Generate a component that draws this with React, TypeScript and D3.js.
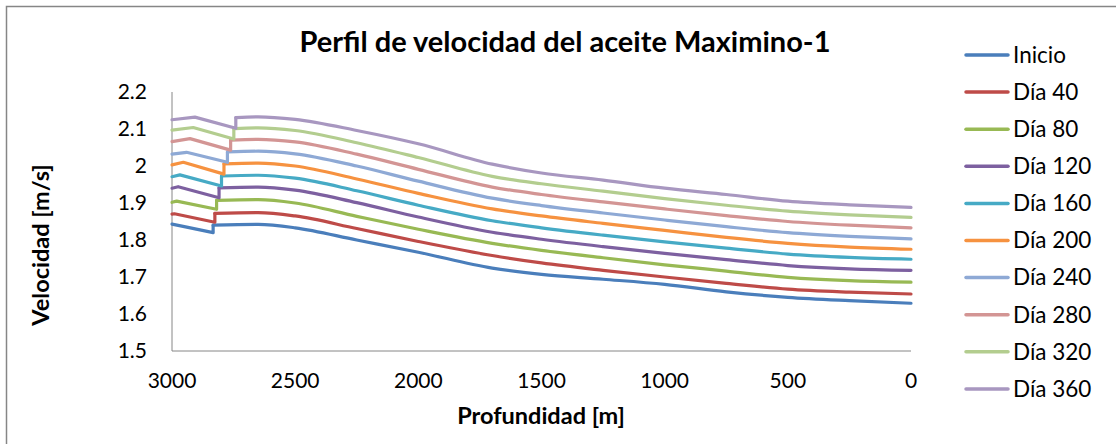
import * as d3 from "d3"

// Depth axis (m) and series names
const seriesNames = ["Inicio", "Día 40", "Día 80", "Día 120", "Día 160", "Día 200", "Día 240", "Día 280", "Día 320", "Día 360"]
const seriesColors = ["#4a7ebb", "#be4b48", "#98b954", "#7d60a0", "#46aac5", "#f69240", "#8ea9d5", "#d39594", "#b3cd8f", "#a897c0"]

// head of each profile: value at 3000 m, small bump, drop, then the jump
const startValues = [1.843, 1.870, 1.902, 1.940, 1.971, 2.003, 2.032, 2.066, 2.097, 2.125]
const peakDepths = [2950, 2990, 2981, 2975, 2968, 2954, 2941, 2927, 2914, 2907]
const peakValues = [1.836, 1.871, 1.905, 1.944, 1.976, 2.010, 2.037, 2.074, 2.104, 2.132]
const jumpDepths = [2833, 2826, 2819, 2809, 2799, 2789, 2775, 2762, 2749, 2741]
const preJumpValues = [1.820, 1.848, 1.883, 1.914, 1.946, 1.978, 2.010, 2.043, 2.073, 2.102]
const postJumpValues = [1.840, 1.872, 1.907, 1.941, 1.973, 2.006, 2.038, 2.070, 2.101, 2.131]

// smooth part of each profile
const tailDepths = [2650, 2500, 2250, 2000, 1700, 1500, 1250, 1000, 750, 500, 250, 0]
const inicio = [1.842, 1.833, 1.800, 1.767, 1.724, 1.707, 1.694, 1.680, 1.660, 1.645, 1.636, 1.629]
const dia40 = [1.874, 1.865, 1.831, 1.796, 1.758, 1.738, 1.718, 1.700, 1.683, 1.667, 1.659, 1.654]
const dia80 = [1.909, 1.900, 1.864, 1.829, 1.791, 1.772, 1.752, 1.733, 1.716, 1.699, 1.690, 1.686]
const dia120 = [1.943, 1.935, 1.901, 1.862, 1.821, 1.802, 1.782, 1.764, 1.747, 1.731, 1.722, 1.718]
const dia160 = [1.975, 1.967, 1.933, 1.894, 1.852, 1.833, 1.813, 1.795, 1.778, 1.762, 1.753, 1.748]
const dia200 = [2.008, 2.000, 1.965, 1.926, 1.884, 1.865, 1.845, 1.826, 1.807, 1.791, 1.781, 1.775]
const dia240 = [2.040, 2.033, 2.000, 1.959, 1.913, 1.893, 1.873, 1.854, 1.836, 1.820, 1.810, 1.803]
const dia280 = [2.072, 2.065, 2.032, 1.991, 1.943, 1.923, 1.903, 1.884, 1.866, 1.850, 1.840, 1.833]
const dia320 = [2.103, 2.096, 2.063, 2.023, 1.972, 1.952, 1.932, 1.912, 1.894, 1.878, 1.868, 1.861]
const dia360 = [2.133, 2.126, 2.096, 2.060, 2.005, 1.981, 1.962, 1.940, 1.923, 1.905, 1.895, 1.888]
const tails = [inicio, dia40, dia80, dia120, dia160, dia200, dia240, dia280, dia320, dia360]

const xTicks = [3000, 2500, 2000, 1500, 1000, 500, 0]
const yTicks = [1.5, 1.6, 1.7, 1.8, 1.9, 2.0, 2.1, 2.2]

const W = 1116
const H = 444
const plot = { left: 172, right: 911, top: 92, bottom: 351 }
const font = "Lato, 'Open Sans', sans-serif"

export default function App() {
  const x = d3.scaleLinear().domain([3000, 0]).range([plot.left, plot.right])
  const y = d3.scaleLinear().domain([1.5, 2.2]).range([plot.bottom, plot.top])

  const headLine = d3
    .line<[number, number]>()
    .x((d) => x(d[0]))
    .y((d) => y(d[1]))
  const tailLine = d3
    .line<[number, number]>()
    .x((d) => x(d[0]))
    .y((d) => y(d[1]))
    .curve(d3.curveMonotoneX)

  const fmt = (v: number) => String(+v.toFixed(1))

  return (
    <svg width={W} height={H} style={{ position: "absolute", left: 0, top: 0, background: "#fff" }} fontFamily={font}>
      <rect x={6.5} y={6.5} width={1300} height={600} fill="none" stroke="#868686" strokeWidth={1.5} />

      <text x={565} y={52} textAnchor="middle" fontSize={29} fontWeight="bold" fill="#000">
        Perfil de velocidad del aceite Maximino-1
      </text>

      {/* axes */}
      <line x1={plot.left} x2={plot.left} y1={plot.top} y2={plot.bottom} stroke="#868686" />
      <line x1={plot.left} x2={plot.right} y1={plot.bottom} y2={plot.bottom} stroke="#868686" />

      {yTicks.map((t) => (
        <text key={t} x={147} y={y(t)} dy="0.35em" textAnchor="end" fontSize={21} fill="#000">
          {fmt(t)}
        </text>
      ))}
      {xTicks.map((t) => (
        <text key={t} x={x(t)} y={381} dy="0.35em" textAnchor="middle" fontSize={21} fill="#000">
          {t}
        </text>
      ))}

      <text x={541} y={416} dy="0.35em" textAnchor="middle" fontSize={23.5} fontWeight="bold" fill="#000">
        Profundidad [m]
      </text>
      <text
        transform={`translate(41,245) rotate(-90)`}
        dy="0.35em"
        textAnchor="middle"
        fontSize={23.5}
        fontWeight="bold"
        fill="#000"
      >
        Velocidad [m/s]
      </text>

      {/* series */}
      {seriesNames.map((name, i) => {
        const head: [number, number][] = [
          [3000, startValues[i]],
          [peakDepths[i], peakValues[i]],
          [jumpDepths[i], preJumpValues[i]],
          [jumpDepths[i], postJumpValues[i]],
        ]
        const tail: [number, number][] = [[jumpDepths[i], postJumpValues[i]]].concat(
          tailDepths.map((d, j) => [d, tails[i][j]] as [number, number]),
        ) as [number, number][]
        return (
          <g key={name} fill="none" stroke={seriesColors[i]} strokeWidth={3.2} strokeLinejoin="round" strokeLinecap="round">
            <path d={headLine(head) ?? ""} />
            <path d={tailLine(tail) ?? ""} />
          </g>
        )
      })}

      {/* legend */}
      {seriesNames.map((name, i) => {
        const ly = 55 + i * 37.1
        return (
          <g key={name}>
            <line x1={966} x2={1008} y1={ly} y2={ly} stroke={seriesColors[i]} strokeWidth={3.5} strokeLinecap="round" />
            <text x={1013} y={ly} dy="0.35em" fontSize={22.5} fill="#000">
              {name}
            </text>
          </g>
        )
      })}
    </svg>
  )
}
